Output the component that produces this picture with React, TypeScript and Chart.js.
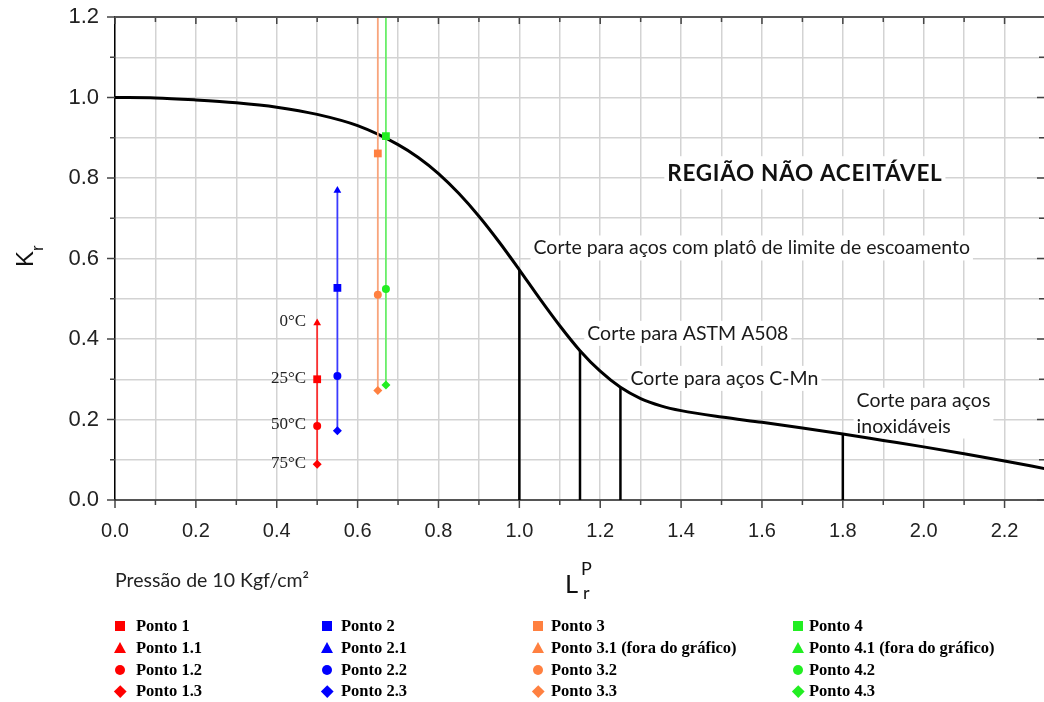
import React, { useEffect, useRef } from "react";
import { Chart, registerables } from "chart.js";

Chart.register(...registerables);

// ---------------- data ----------------
const curveLr = [0, 0.1, 0.2, 0.3, 0.4, 0.5, 0.6, 0.7, 0.75, 0.8, 0.85, 0.9, 0.95, 1.0, 1.05, 1.1, 1.15, 1.2, 1.25, 1.3, 1.35, 1.4, 1.5, 1.6, 1.7, 1.8, 1.9, 2.0, 2.1, 2.2, 2.3];
const curveKr = [1.0, 0.999, 0.994, 0.987, 0.976, 0.958, 0.93, 0.883, 0.851, 0.811, 0.762, 0.705, 0.641, 0.572, 0.501, 0.433, 0.371, 0.32, 0.28, 0.252, 0.234, 0.222, 0.206, 0.193, 0.179, 0.164, 0.148, 0.132, 0.115, 0.097, 0.078];

const cutoffLr = [1.0, 1.15, 1.25, 1.8];
const cutoffKr = [0.572, 0.371, 0.28, 0.164];
const cutoffLabels = [
  ["Corte para aços com platô de limite de escoamento"],
  ["Corte para ASTM A508"],
  ["Corte para aços C-Mn"],
  ["Corte para aços", "inoxidáveis"],
];
const regionLabel = "REGIÃO NÃO ACEITÁVEL";

const groupIds = ["1", "2", "3", "4"];
const groupLr = [0.5, 0.55, 0.65, 0.67];
const squareKr = [0.3, 0.527, 0.861, 0.904];
const triangleKr = [0.44, 0.769, 1.3, 1.3]; // 3.1 and 4.1 are off the chart
const circleKr = [0.184, 0.308, 0.51, 0.524];
const diamondKr = [0.089, 0.172, 0.272, 0.286];
const temperatureLabels = ["0°C", "25°C", "50°C", "75°C"];

const xTickLabels = ["0.0", "0.2", "0.4", "0.6", "0.8", "1.0", "1.2", "1.4", "1.6", "1.8", "2.0", "2.2"];
const yTickLabels = ["0.0", "0.2", "0.4", "0.6", "0.8", "1.0", "1.2"];
const pressureNote = "Pressão de 10 Kgf/cm²";

// ---------------- styles / layout ----------------
const markerColors = ["#ff0000", "#0000ff", "#ff8040", "#22ee22"];
const lineColors = ["#ff3030", "#3b3bff", "#f8a57c", "#6aee6a"];
const shapeStyles = ["triangle", "rect", "circle", "rectRot"];
const shapeRadius = [4.5, 5.5, 4, 4.5];

const cutoffLabelPos = [
  { x: 1.035, y: 0.61 },
  { x: 1.168, y: 0.398 },
  { x: 1.275, y: 0.286 },
  { x: 1.834, y: 0.2315 },
];
const regionLabelPos = { x: 1.366, y: 0.792 };

const legendMarkerX = [120, 327, 538, 798];
const legendTextX = [136, 341, 551, 809];
const legendRowY = [626, 648, 670, 691];

const W = 1044;
const H = 702;
const PLOT_RIGHT = 1045;

const sansFont = "Lato, 'Open Sans', sans-serif";

const decorPlugin = {
  id: "decor",
  afterLayout(chart: any) {
    // let the plot area run to the right edge of the picture, as in the reference
    const xs = chart.scales.x;
    chart.chartArea.right = PLOT_RIGHT;
    chart.chartArea.width = PLOT_RIGHT - chart.chartArea.left;
    xs.right = PLOT_RIGHT;
    xs.width = PLOT_RIGHT - xs.left;
    xs.configure();
  },
  beforeDatasetsDraw(chart: any) {
    const ctx = chart.ctx as any;
    const xs = chart.scales.x;
    const ys = chart.scales.y;
    ctx.save();
    // region label
    ctx.font = `bold 22.5px ${sansFont}`;
    ctx.letterSpacing = "0.7px";
    ctx.textBaseline = "alphabetic";
    ctx.textAlign = "left";
    {
      const px = xs.getPixelForValue(regionLabelPos.x);
      const py = ys.getPixelForValue(regionLabelPos.y);
      const w = ctx.measureText(regionLabel).width;
      ctx.fillStyle = "#fff";
      ctx.fillRect(px - 3, py - 25, w + 6, 33);
      ctx.fillStyle = "#111";
      ctx.fillText(regionLabel, px, py);
    }
    ctx.letterSpacing = "0px";
    ctx.font = `19.5px ${sansFont}`;
    cutoffLabels.forEach((lines, i) => {
      const px = xs.getPixelForValue(cutoffLabelPos[i].x);
      const py = ys.getPixelForValue(cutoffLabelPos[i].y);
      const lh = 25.7;
      const w = Math.max(...lines.map((l) => ctx.measureText(l).width));
      ctx.fillStyle = "#fff";
      ctx.fillRect(px - 3, py - 19, w + 6, 25 + (lines.length - 1) * lh);
      ctx.fillStyle = "#1a1a1a";
      lines.forEach((l, k) => ctx.fillText(l, px, py + k * lh));
    });
    ctx.restore();
  },
  afterDraw(chart: any) {
    const ctx = chart.ctx as CanvasRenderingContext2D;
    const xs = chart.scales.x;
    const ys = chart.scales.y;
    const { left, right, top, bottom } = chart.chartArea;
    ctx.save();
    const line = (x1: number, y1: number, x2: number, y2: number) => {
      ctx.beginPath();
      ctx.moveTo(x1, y1);
      ctx.lineTo(x2, y2);
      ctx.stroke();
    };
    // tick marks
    ctx.strokeStyle = "#444";
    ctx.lineWidth = 1.5;
    const rightEdge = Math.min(right, W);
    xs.ticks.forEach((t: any) => {
      const px = xs.getPixelForValue(t.value);
      const major = xTickLabels.includes(Number(t.value).toFixed(1));
      line(px, bottom, px, bottom + (major ? 8 : 5));
      line(px, top, px, top + (major ? 7 : 5));
    });
    ys.ticks.forEach((t: any) => {
      const py = ys.getPixelForValue(t.value);
      const major = yTickLabels.includes(Number(t.value).toFixed(1));
      line(left - (major ? 8 : 5), py, left, py);
      line(rightEdge - (major ? 7 : 5), py, rightEdge, py);
    });
    ctx.strokeStyle = "#555";
    ctx.lineWidth = 2;
    line(left, top, right, top);

    // temperature labels next to group 1 points
    const meta = chart.getDatasetMeta(0);
    ctx.font = "17px 'Liberation Serif', 'Times New Roman', serif";
    ctx.fillStyle = "#222";
    ctx.textAlign = "right";
    ctx.textBaseline = "middle";
    temperatureLabels.forEach((lab, k) => {
      const el = meta.data[k];
      if (el) ctx.fillText(lab, el.x - 11, el.y - 1);
    });

    // y axis title K_r
    ctx.save();
    ctx.translate(33, 267);
    ctx.rotate(-Math.PI / 2);
    ctx.textAlign = "left";
    ctx.textBaseline = "alphabetic";
    ctx.fillStyle = "#111";
    ctx.font = "24px 'Liberation Sans', Arial, sans-serif";
    ctx.fillText("K", 0, 0);
    const kw = ctx.measureText("K").width;
    ctx.font = "17px 'Liberation Sans', Arial, sans-serif";
    ctx.fillText("r", kw, 9.5);
    ctx.restore();

    // x axis title L^P_r
    ctx.textAlign = "left";
    ctx.textBaseline = "alphabetic";
    ctx.fillStyle = "#111";
    ctx.font = `25.5px ${sansFont}`;
    ctx.fillText("L", 565, 593);
    ctx.font = `18px ${sansFont}`;
    ctx.fillText("P", 581, 575);
    ctx.fillText("r", 583, 599);

    // pressure note
    ctx.font = `19.5px ${sansFont}`;
    ctx.fillStyle = "#222";
    ctx.fillText(pressureNote, 115, 587);
    ctx.restore();
  },
};

function LegendMarker({ shape, color, cx, cy }: { shape: string; color: string; cx: number; cy: number }) {
  const base: React.CSSProperties = { position: "absolute" };
  if (shape === "rect") {
    return <div style={{ ...base, left: cx - 5, top: cy - 5, width: 10, height: 10, background: color }} />;
  }
  if (shape === "circle") {
    return <div style={{ ...base, left: cx - 5, top: cy - 5, width: 10, height: 10, borderRadius: "50%", background: color }} />;
  }
  if (shape === "rectRot") {
    return (
      <div
        style={{ ...base, left: cx - 4.25, top: cy - 4.25, width: 8.5, height: 8.5, background: color, transform: "rotate(45deg)" }}
      />
    );
  }
  return (
    <div
      style={{
        ...base,
        left: cx - 6.5,
        top: cy - 6,
        width: 0,
        height: 0,
        borderLeft: "6.5px solid transparent",
        borderRight: "6.5px solid transparent",
        borderBottom: `11px solid ${color}`,
      }}
    />
  );
}

export default function App() {
  const ref = useRef<HTMLCanvasElement | null>(null);

  useEffect(() => {
    document.body.style.margin = "0";
    const canvas = ref.current;
    if (!canvas) return;

    const groupDatasets = groupIds.map((id, i) => ({
      label: `Ponto ${id}`,
      data: [triangleKr[i], squareKr[i], circleKr[i], diamondKr[i]].map((y) => ({ x: groupLr[i], y })),
      showLine: true,
      borderColor: lineColors[i],
      borderWidth: 1.8,
      pointStyle: shapeStyles,
      pointRadius: shapeRadius,
      pointBackgroundColor: markerColors[i],
      pointBorderColor: markerColors[i],
      pointBorderWidth: 0,
    }));

    const curveDataset = {
      label: "Curva",
      data: curveLr.map((x, i) => ({ x, y: curveKr[i] })),
      showLine: true,
      borderColor: "#000",
      borderWidth: 3,
      pointRadius: 0,
      cubicInterpolationMode: "monotone",
    };

    const cutoffDatasets = cutoffLr.map((x, i) => ({
      label: `Corte ${i}`,
      data: [
        { x, y: 0 },
        { x, y: cutoffKr[i] },
      ],
      showLine: true,
      borderColor: "#000",
      borderWidth: 2.5,
      pointRadius: 0,
    }));

    const zeroPad = (s: any) => {
      s.paddingLeft = 0;
      s.paddingRight = 0;
      s.paddingTop = 0;
      s.paddingBottom = 0;
    };

    const chart = new Chart(canvas, {
      type: "scatter",
      data: { datasets: [...groupDatasets, curveDataset, ...cutoffDatasets] as any },
      options: {
        responsive: false,
        animation: false,
        events: [],
        layout: { padding: { left: 0, right: 0, top: 17, bottom: 162 } },
        plugins: { legend: { display: false }, tooltip: { enabled: false } },
        scales: {
          x: {
            type: "linear",
            min: 0,
            max: 2.3,
            afterFit: (s: any) => {
              s.height = 40;
              zeroPad(s);
            },
            ticks: {
              stepSize: 0.1,
              autoSkip: false,
              maxRotation: 0,
              padding: 19,
              color: "#222",
              font: { family: "'Liberation Sans', Arial, sans-serif", size: 20 },
              callback: (v: any) => {
                const s = Number(v).toFixed(1);
                return xTickLabels.includes(s) ? s : "";
              },
            },
            grid: { color: "#d3d3d3", lineWidth: 1.5, drawTicks: false },
            border: { color: "#555", width: 2 },
          },
          y: {
            type: "linear",
            min: 0,
            max: 1.2,
            afterFit: (s: any) => {
              s.width = 115;
              zeroPad(s);
            },
            ticks: {
              stepSize: 0.1,
              autoSkip: false,
              padding: 16,
              color: "#222",
              font: { family: "'Liberation Sans', Arial, sans-serif", size: 22 },
              callback: (v: any) => {
                const s = Number(v).toFixed(1);
                return yTickLabels.includes(s) ? s : "";
              },
            },
            grid: { color: "#d3d3d3", lineWidth: 1.5, drawTicks: false },
            border: { color: "#000", width: 1.5 },
          },
        },
      },
      plugins: [decorPlugin],
    });
    return () => chart.destroy();
  }, []);

  const legendItems: { shape: string; color: string; text: string; col: number; row: number }[] = [];
  groupIds.forEach((id, i) => {
    const names = [
      `Ponto ${id}`,
      `Ponto ${id}.1${triangleKr[i] > 1.2 ? " (fora do gráfico)" : ""}`,
      `Ponto ${id}.2`,
      `Ponto ${id}.3`,
    ];
    const shapes = ["rect", "triangle", "circle", "rectRot"];
    names.forEach((text, r) => legendItems.push({ shape: shapes[r], color: markerColors[i], text, col: i, row: r }));
  });

  return (
    <div style={{ position: "relative", width: W, height: H, background: "#fff", overflow: "hidden" }}>
      <canvas ref={ref} width={W} height={H} style={{ position: "absolute", left: 0, top: 0, width: W, height: H }} />
      {legendItems.map((it, k) => (
        <React.Fragment key={k}>
          <LegendMarker shape={it.shape} color={it.color} cx={legendMarkerX[it.col]} cy={legendRowY[it.row]} />
          <div
            style={{
              position: "absolute",
              left: legendTextX[it.col],
              top: legendRowY[it.row] - 10,
              height: 20,
              lineHeight: "20px",
              fontFamily: "'Liberation Serif', 'Times New Roman', serif",
              fontWeight: "bold",
              fontSize: 16.5,
              color: "#000",
              whiteSpace: "nowrap",
            }}
          >
            {it.text}
          </div>
        </React.Fragment>
      ))}
    </div>
  );
}
